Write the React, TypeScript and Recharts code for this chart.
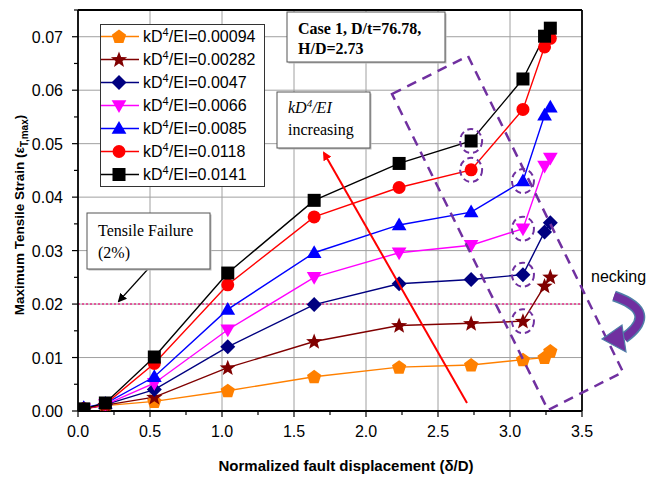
import React from 'react';
import {
  LineChart,
  Line,
  XAxis,
  YAxis,
  CartesianGrid,
  Legend,
  ReferenceLine,
  ReferenceDot,
} from 'recharts';

// normalized fault displacement (delta/D)
const displacement = [0.04, 0.19, 0.53, 1.04, 1.64, 2.23, 2.73, 3.09, 3.24, 3.28];

const strain00094 = [0.0004, 0.001, 0.0018, 0.0038, 0.0064, 0.0082, 0.0086, 0.0096, 0.01, 0.0112];
const strain00282 = [0.0004, 0.0011, 0.0026, 0.0081, 0.013, 0.016, 0.0164, 0.0168, 0.0234, 0.0251];
const strain0047 = [0.0004, 0.0012, 0.004, 0.012, 0.0199, 0.0238, 0.0246, 0.0255, 0.0335, 0.0352];
const strain0066 = [0.0004, 0.0012, 0.0052, 0.0152, 0.025, 0.0296, 0.031, 0.0341, 0.0458, 0.0473];
const strain0085 = [0.0006, 0.0014, 0.0064, 0.019, 0.0296, 0.0348, 0.0372, 0.043, 0.0553, 0.0568];
const strain0118 = [0.0004, 0.0013, 0.0089, 0.0236, 0.0363, 0.0418, 0.0451, 0.0564, 0.0681, 0.0697];
const strain0141 = [0.0004, 0.0015, 0.0101, 0.0258, 0.0394, 0.0463, 0.0505, 0.0621, 0.0701, 0.0716];

const xTicks = [0, 0.25, 0.5, 0.75, 1, 1.25, 1.5, 1.75, 2, 2.25, 2.5, 2.75, 3, 3.25, 3.5];
const yTicks = [
  0, 0.005, 0.01, 0.015, 0.02, 0.025, 0.03, 0.035, 0.04, 0.045, 0.05, 0.055, 0.06, 0.065, 0.07, 0.075,
];
const xGrid = [0.5, 1, 1.5, 2, 2.5, 3];
const yGrid = [0.01, 0.02, 0.03, 0.04, 0.05, 0.06, 0.07];

// points singled out with dashed rings (onset of necking)
const neckingPoints = [
  { x: 2.73, y: 0.0505 },
  { x: 2.73, y: 0.0451 },
  { x: 3.09, y: 0.043 },
  { x: 3.09, y: 0.0341 },
  { x: 3.09, y: 0.0255 },
  { x: 3.09, y: 0.0168 },
];

const series = [
  { key: 's1', label: '0.00094', values: strain00094, color: '#FF8000', shape: 'pentagon' },
  { key: 's2', label: '0.00282', values: strain00282, color: '#800000', shape: 'star' },
  { key: 's3', label: '0.0047', values: strain0047, color: '#000080', shape: 'diamond' },
  { key: 's4', label: '0.0066', values: strain0066, color: '#FF00FF', shape: 'down' },
  { key: 's5', label: '0.0085', values: strain0085, color: '#0000FF', shape: 'up' },
  { key: 's6', label: '0.0118', values: strain0118, color: '#FF0000', shape: 'circle' },
  { key: 's7', label: '0.0141', values: strain0141, color: '#000000', shape: 'square' },
];

const data = displacement.map((x, i) => {
  const row: any = { x };
  series.forEach((s) => {
    row[s.key] = s.values[i];
  });
  return row;
});

const SANS = 'Liberation Sans, Arial, sans-serif';
const SERIF = 'Liberation Serif, Times New Roman, serif';
const PURPLE = '#7030A0';

const polygon = (cx: number, cy: number, n: number, r: number, rot: number, inner?: number) => {
  const pts: string[] = [];
  const count = inner ? n * 2 : n;
  for (let i = 0; i < count; i++) {
    const rr = inner && i % 2 === 1 ? inner : r;
    const a = rot + (i * 2 * Math.PI) / count;
    pts.push(`${(cx + rr * Math.cos(a)).toFixed(2)},${(cy + rr * Math.sin(a)).toFixed(2)}`);
  }
  return pts.join(' ');
};

const Marker = ({ shape, cx, cy, color }: any) => {
  const up = -Math.PI / 2;
  switch (shape) {
    case 'pentagon':
      return <polygon points={polygon(cx, cy + 0.5, 5, 7.5, up)} fill={color} />;
    case 'star':
      return <polygon points={polygon(cx, cy + 0.5, 5, 8.5, up, 3.6)} fill={color} />;
    case 'diamond':
      return <polygon points={polygon(cx, cy, 4, 7.5, up)} fill={color} />;
    case 'down':
      return <polygon points={polygon(cx, cy - 1, 3, 8.5, Math.PI / 2)} fill={color} />;
    case 'up':
      return <polygon points={polygon(cx, cy + 1, 3, 8.5, up)} fill={color} />;
    case 'circle':
      return <circle cx={cx} cy={cy} r={6.5} fill={color} />;
    default:
      return <rect x={cx - 6.5} y={cy - 6.5} width={13} height={13} fill={color} />;
  }
};

const XTick = (props: any) => {
  const { x, y, payload } = props;
  const v = payload.value;
  const major = Math.abs(v * 2 - Math.round(v * 2)) < 1e-6;
  return (
    <g>
      <line x1={x} x2={x} y1={y} y2={y + (major ? 6 : 4)} stroke="#000" strokeWidth={1.2} />
      {major && (
        <text x={x} y={y + 26} textAnchor="middle" fontFamily={SANS} fontSize={16} fill="#000">
          {v.toFixed(1)}
        </text>
      )}
    </g>
  );
};

const YTick = (props: any) => {
  const { x, y, payload } = props;
  const v = payload.value;
  const major = Math.abs(v * 100 - Math.round(v * 100)) < 1e-6;
  return (
    <g>
      <line x1={x} x2={x - (major ? 6 : 4)} y1={y} y2={y} stroke="#000" strokeWidth={1.2} />
      {major && (
        <text x={x - 15} y={y + 6} textAnchor="end" fontFamily={SANS} fontSize={16} fill="#000">
          {v.toFixed(2)}
        </text>
      )}
    </g>
  );
};

const NeckRing = (props: any) => {
  const { cx, cy } = props;
  return (
    <ellipse
      cx={cx}
      cy={cy}
      rx={11}
      ry={12}
      fill="none"
      stroke={PURPLE}
      strokeWidth={2}
      strokeDasharray="6 4"
    />
  );
};

const LegendBox = () => (
  <div
    style={{
      width: 165,
      height: 163,
      boxSizing: 'border-box',
      border: '1px solid #333',
      background: '#fff',
      fontFamily: SANS,
      fontSize: 16,
      color: '#000',
    }}
  >
    {series.map((s) => (
      <div key={s.key} style={{ height: 23, display: 'flex', alignItems: 'center' }}>
        <svg width={42} height={23} style={{ display: 'block' }}>
          <line x1={0} x2={38} y1={11.5} y2={11.5} stroke={s.color} strokeWidth={1.5} />
          <Marker shape={s.shape} cx={18} cy={11.5} color={s.color} />
        </svg>
        <span>
          kD<sup style={{ fontSize: 11, lineHeight: 0 }}>4</sup>/EI={s.label}
        </span>
      </div>
    ))}
  </div>
);

const Box = ({ x, y, w, h }: any) => (
  <g>
    <rect x={x + 1.5} y={y + 1.5} width={w} height={h} fill="#bbb" />
    <rect x={x} y={y} width={w} height={h} fill="#fff" stroke="#555" strokeWidth={1} />
  </g>
);

const Overlay = () => (
  <svg
    width={647}
    height={477}
    style={{ position: 'absolute', left: 0, top: 0, pointerEvents: 'none' }}
  >
    <defs>
      <marker id="redHead" markerWidth="9" markerHeight="9" refX="7" refY="4.5" orient="auto" markerUnits="userSpaceOnUse">
        <path d="M0,0 L9,4.5 L0,9 z" fill="#FF0000" />
      </marker>
      <marker id="blackHead" markerWidth="9" markerHeight="9" refX="7" refY="4.5" orient="auto" markerUnits="userSpaceOnUse">
        <path d="M0,0 L9,4.5 L0,9 z" fill="#000" />
      </marker>
    </defs>

    {/* necking region */}
    <polygon
      points="392,94 468,56 623,372 548,410"
      fill="none"
      stroke={PURPLE}
      strokeWidth={2.5}
      strokeDasharray="10 7"
    />

    {/* case info */}
    <Box x={287} y={12} w={158} h={50} />
    <text x={298} y={34} fontFamily={SERIF} fontSize={16} fontWeight="bold" fill="#000">
      Case 1, D/t=76.78,
    </text>
    <text x={298} y={54} fontFamily={SERIF} fontSize={16} fontWeight="bold" fill="#000">
      H/D=2.73
    </text>

    {/* stiffness trend */}
    <line x1={467} y1={403} x2={324} y2={153} stroke="#FF0000" strokeWidth={2} markerEnd="url(#redHead)" />
    <Box x={277} y={92} w={93} h={56} />
    <text x={288} y={113} fontFamily={SERIF} fontSize={16} fontStyle="italic" fill="#000">
      kD<tspan dy={-6} fontSize={11}>4</tspan>
      <tspan dy={6}>/EI</tspan>
    </text>
    <text x={288} y={135} fontFamily={SERIF} fontSize={16} fill="#000">
      increasing
    </text>

    {/* tensile failure */}
    <line x1={148} y1={269} x2={119} y2={301} stroke="#000" strokeWidth={1.2} markerEnd="url(#blackHead)" />
    <Box x={87} y={213} w={123} h={56} />
    <text x={98} y={236} fontFamily={SERIF} fontSize={16} fill="#000">
      Tensile Failure
    </text>
    <text x={98} y={258} fontFamily={SERIF} fontSize={16} fill="#000">
      (2%)
    </text>

    {/* necking label and curved arrow */}
    <text x={591} y={282} fontFamily={SANS} fontSize={16} fill="#000">
      necking
    </text>
    <path d="M614,296 Q660,312 624,338" fill="none" stroke="#4F7FA8" strokeWidth={11} />
    <path d="M614,296 Q660,312 624,338" fill="none" stroke={PURPLE} strokeWidth={8} />
    <polygon points="602,339 622,325 626,352" fill={PURPLE} stroke="#4F7FA8" strokeWidth={1.2} />

    {/* axis titles */}
    <text
      x={346}
      y={471}
      textAnchor="middle"
      fontFamily={SANS}
      fontSize={15}
      fontWeight="bold"
      fill="#000"
    >
      Normalized fault displacement (δ/D)
    </text>
    <text
      transform="translate(24,215) rotate(-90)"
      textAnchor="middle"
      fontFamily={SANS}
      fontSize={13.5}
      fontWeight="bold"
      fill="#000"
    >
      Maximum Tensile Strain (ε<tspan dy={4} fontSize={10}>T,max</tspan>
      <tspan dy={-4}>)</tspan>
    </text>
  </svg>
);

const App = () => {
  return (
    <div style={{ position: 'absolute', left: 0, top: 0, width: 647, height: 477, background: '#fff' }}>
      <LineChart width={647} height={477} data={data} margin={{ top: 10, right: 65, bottom: 0, left: 0 }}>
        <CartesianGrid
          stroke="#A0A0A0"
          strokeWidth={1}
          verticalValues={xGrid}
          horizontalValues={yGrid}
        />
        <XAxis
          dataKey="x"
          type="number"
          domain={[0, 3.5]}
          ticks={xTicks}
          interval={0}
          height={66}
          tickSize={0}
          tickMargin={0}
          tick={<XTick />}
          axisLine={{ stroke: '#000', strokeWidth: 1.8 }}
          allowDataOverflow
        />
        <YAxis
          type="number"
          domain={[0, 0.075]}
          ticks={yTicks}
          interval={0}
          width={78}
          tickSize={0}
          tickMargin={0}
          tick={<YTick />}
          axisLine={{ stroke: '#000', strokeWidth: 1.8 }}
          allowDataOverflow
        />
        <ReferenceLine y={0.075} stroke="#000" strokeWidth={1.8} />
        <ReferenceLine x={3.5} stroke="#000" strokeWidth={1.8} />
        <ReferenceLine y={0.02} stroke="#E8308A" strokeWidth={1.5} strokeDasharray="2 2" />
        {series.map((s) => (
          <Line
            key={s.key}
            type="linear"
            dataKey={s.key}
            stroke={s.color}
            strokeWidth={1.4}
            isAnimationActive={false}
            dot={(p: any) => (
              <Marker key={`${s.key}-${p.index}`} shape={s.shape} cx={p.cx} cy={p.cy} color={s.color} />
            )}
            activeDot={false}
          />
        ))}
        {neckingPoints.map((p, i) => (
          <ReferenceDot key={i} x={p.x} y={p.y} r={12} shape={<NeckRing />} />
        ))}
        <Legend
          layout="vertical"
          align="center"
          verticalAlign="middle"
          wrapperStyle={{ left: 100, top: 24, width: 165, height: 163 }}
          content={() => <LegendBox />}
        />
      </LineChart>
      <Overlay />
    </div>
  );
};

export default App;
